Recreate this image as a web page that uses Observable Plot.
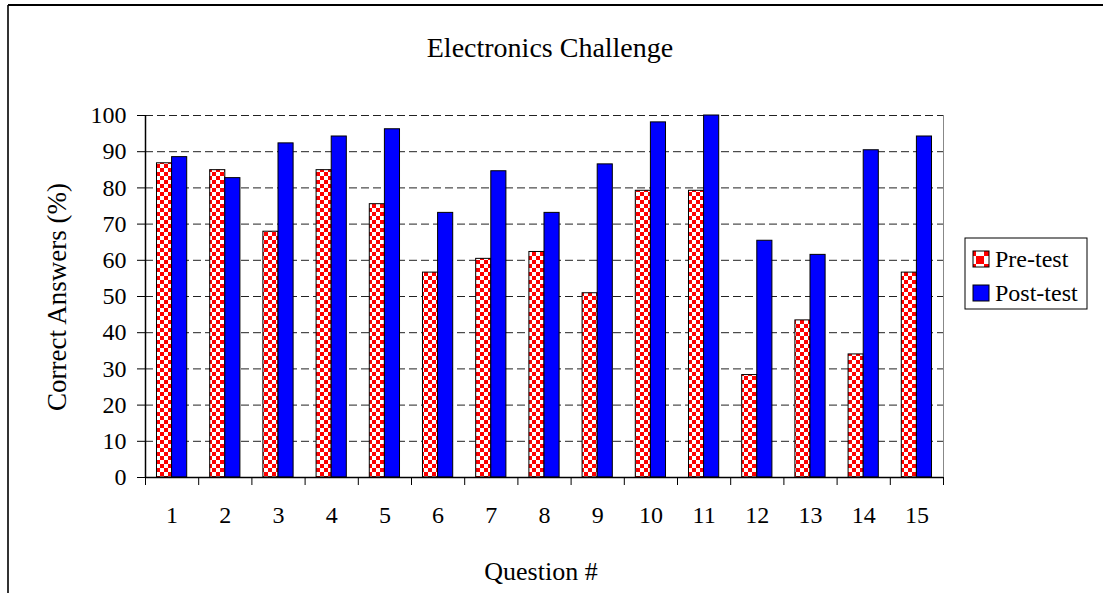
<!DOCTYPE html>
<html><head><meta charset="utf-8">
<script src="https://cdn.jsdelivr.net/npm/d3@7"></script>
<script src="https://cdn.jsdelivr.net/npm/@observablehq/plot@0.6"></script>
<style>body{margin:0;background:#fff}</style></head>
<body><div id="chart"></div>
<script>
const chartTitle = "Electronics Challenge";
const xTitle = "Question #";
const yTitle = "Correct Answers (%)";
const seriesNames = ["Pre-test", "Post-test"];
const questions = [1, 2, 3, 4, 5, 6, 7, 8, 9, 10, 11, 12, 13, 14, 15];
const preTest = [86.8, 84.9, 67.9, 84.9, 75.5, 56.6, 60.4, 62.3, 50.9, 79.2, 79.2, 28.3, 43.4, 34.0, 56.6];
const postTest = [88.5, 82.7, 92.3, 94.2, 96.2, 73.1, 84.6, 73.1, 86.5, 98.1, 100, 65.4, 61.5, 90.4, 94.2];
const yTicks = [0, 10, 20, 30, 40, 50, 60, 70, 80, 90, 100];

const barWidth = 0.284; // in category units
const preRows = questions.map((q, i) => ({q, series: seriesNames[0], value: preTest[i], x1: q - barWidth, x2: q}));
const postRows = questions.map((q, i) => ({q, series: seriesNames[1], value: postTest[i], x1: q, x2: q + barWidth}));
const boundaries = [...questions.map(q => q - 0.5), questions[questions.length - 1] + 0.5];

const W = 1103, H = 593;
const font = "'Liberation Serif', 'Times New Roman', serif";

const plot = Plot.plot({
  width: W, height: H,
  marginLeft: 145, marginRight: 160, marginTop: 115, marginBottom: 116,
  style: {fontFamily: font, fontSize: "24px", color: "#000", background: "transparent", overflow: "visible"},
  x: {type: "linear", domain: [boundaries[0], boundaries[boundaries.length - 1]]},
  y: {domain: [0, 100]},
  marks: [
    Plot.ruleY(yTicks.filter(d => d > 0), {stroke: "#222", strokeDasharray: "8,4", strokeWidth: 1}),
    Plot.ruleX([boundaries[boundaries.length - 1]], {stroke: "#888", strokeWidth: 1}),
    Plot.rect(preRows, {x1: "x1", x2: "x2", y1: 0, y2: "value", fill: "url(#checker)", stroke: "#000", strokeWidth: 1}),
    Plot.rect(postRows, {x1: "x1", x2: "x2", y1: 0, y2: "value", fill: "#0000ff", stroke: "#000", strokeWidth: 1}),
    Plot.axisY({ticks: yTicks, tickSize: 8, tickPadding: 11, label: null, tickFormat: d => String(d)}),
    Plot.axisX({ticks: boundaries, tickSize: 8, tickFormat: () => "", label: null}),
    Plot.axisX({ticks: questions, tickSize: 0, tickPadding: 28, label: null, tickFormat: d => String(d)}),
    Plot.ruleX([boundaries[0]], {stroke: "#000", strokeWidth: 1.5}),
    Plot.ruleY([0], {stroke: "#000", strokeWidth: 1.5})
  ]
});

const svg = d3.select(plot);
const defs = svg.insert("defs", ":first-child");
function checker(id, cell) {
  const p = defs.append("pattern").attr("id", id).attr("patternUnits", "userSpaceOnUse")
    .attr("width", cell * 2).attr("height", cell * 2);
  p.append("rect").attr("width", cell * 2).attr("height", cell * 2).attr("fill", "#fff");
  p.append("rect").attr("width", cell).attr("height", cell).attr("fill", "#ff0000");
  p.append("rect").attr("x", cell).attr("y", cell).attr("width", cell).attr("height", cell).attr("fill", "#ff0000");
}
checker("checker", 4);
checker("checker8", 8);

// outer chart frame
svg.append("line").attr("x1", 8).attr("y1", 5).attr("x2", 8).attr("y2", H).attr("stroke", "#333").attr("stroke-width", 2);
svg.append("line").attr("x1", 8).attr("y1", 5).attr("x2", W).attr("y2", 5).attr("stroke", "#000").attr("stroke-width", 2);

// titles
svg.append("text").attr("x", 550).attr("y", 47).attr("text-anchor", "middle").attr("dominant-baseline", "central")
  .attr("font-size", 28).attr("font-family", font).attr("fill", "#000").text(chartTitle);
svg.append("text").attr("x", 541).attr("y", 571).attr("text-anchor", "middle").attr("dominant-baseline", "central")
  .attr("font-size", 26).attr("font-family", font).attr("fill", "#000").text(xTitle);
svg.append("text").attr("transform", "translate(57,297) rotate(-90)").attr("text-anchor", "middle").attr("dominant-baseline", "central")
  .attr("font-size", 27).attr("font-family", font).attr("fill", "#000").text(yTitle);

// legend
const lg = svg.append("g").attr("text-anchor", "start");
lg.append("rect").attr("x", 965).attr("y", 238).attr("width", 122).attr("height", 71).attr("fill", "#fff").attr("stroke", "#000").attr("stroke-width", 1);
const legendFills = ["url(#checker8)", "#0000ff"];
seriesNames.forEach((name, i) => {
  const cy = 259 + i * 34;
  lg.append("rect").attr("x", 973).attr("y", cy - 8).attr("width", 16).attr("height", 16)
    .attr("fill", legendFills[i]).attr("stroke", "#000").attr("stroke-width", 1);
  lg.append("text").attr("x", 995).attr("y", cy).attr("text-anchor", "start").attr("dominant-baseline", "central")
    .attr("font-size", 24).attr("font-family", font).attr("fill", "#000").text(name);
});

document.getElementById("chart").appendChild(plot);
</script>
</body></html>
